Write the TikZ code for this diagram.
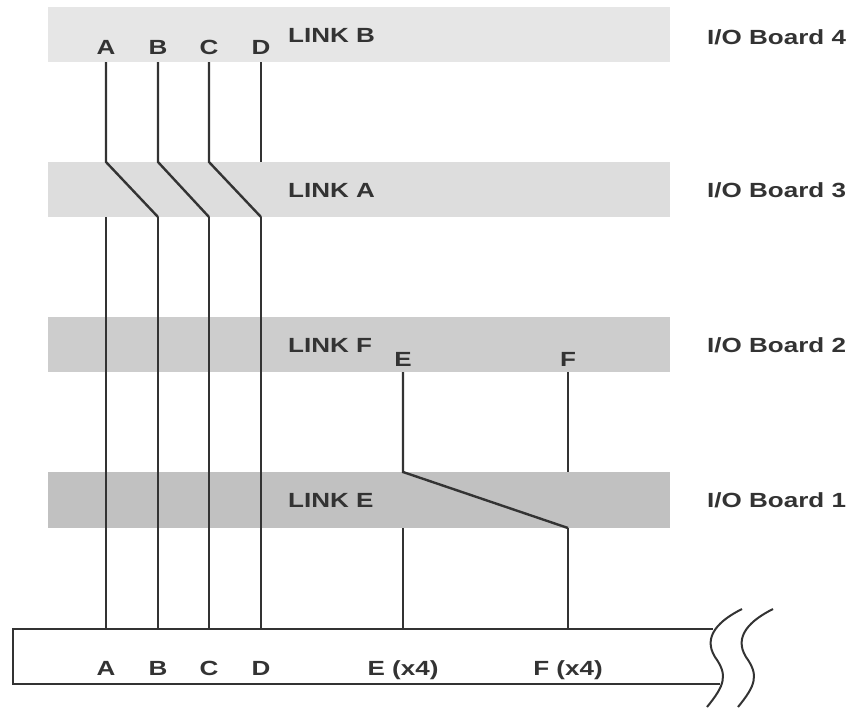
\documentclass[tikz,border=0pt]{standalone}
\usepackage{fontspec}
\setmainfont{Liberation Sans}[FakeStretch=1.27]
\begin{document}
\begin{tikzpicture}[x=1pt,y=-1pt,
    lbl/.style={inner sep=0pt,text height=14.7pt,text depth=0pt,
        font=\fontsize{20.5}{24}\selectfont\bfseries,text=ink},
    wire/.style={draw=ink,line width=2.4pt},
    boxline/.style={draw=ink,line width=2pt}]

    % 颜色
    \definecolor{ink}{RGB}{51, 51, 51}
    \definecolor{band4}{RGB}{230, 230, 230}
    \definecolor{band3}{RGB}{221, 221, 221}
    \definecolor{band2}{RGB}{205, 205, 205}
    \definecolor{band1}{RGB}{193, 193, 193}

    \useasboundingbox (0,0) rectangle (851,707);

    % 四块板的灰色条
    \fill[band4] (48,7) rectangle (670,62);
    \fill[band3] (48,162) rectangle (670,217);
    \fill[band2] (48,317) rectangle (670,372);
    \fill[band1] (48,472) rectangle (670,528);

    % 链路和板的标签
    \node[lbl,anchor=west] (linkB) at (288,35) {LINK B};
    \node[lbl,anchor=west] (linkA) at (288,190) {LINK A};
    \node[lbl,anchor=west] (linkF) at (288,345) {LINK F};
    \node[lbl,anchor=west] (linkE) at (288,500) {LINK E};
    \node[lbl,anchor=west] (board4) at (707,37) {I/O Board 4};
    \node[lbl,anchor=west] (board3) at (707,190) {I/O Board 3};
    \node[lbl,anchor=west] (board2) at (707,345) {I/O Board 2};
    \node[lbl,anchor=west] (board1) at (707,500) {I/O Board 1};

    % A 到 D 的信号
    \foreach \n/\x in {A/106,B/158,C/209,D/261} {
        \node[lbl] (t\n) at (\x,47) {\n};
        \node[lbl] (b\n) at (\x,668) {\n};
        \coordinate (u\n) at (\x,62);
        \coordinate (m\n) at (\x,162);
        \coordinate (l\n) at (\x,217);
        \coordinate (e\n) at (\x,629);
        \draw[wire] (l\n) -- (e\n);
    }
    \foreach \p/\q in {A/B,B/C,C/D} {
        \draw[wire] (u\p) -- (m\p) -- (l\q);
    }
    \draw[wire] (uD) -- (mD);

    % E 和 F 的信号
    \node[lbl] (tE) at (403,359) {E};
    \node[lbl] (tF) at (568,359) {F};
    \node[lbl] (bE) at (403,668) {E (x4)};
    \node[lbl] (bF) at (568,668) {F (x4)};
    \foreach \n/\x in {E/403,F/568} {
        \coordinate (u\n) at (\x,372);
        \coordinate (m\n) at (\x,472);
        \coordinate (l\n) at (\x,528);
        \coordinate (e\n) at (\x,629);
        \draw[wire] (l\n) -- (e\n);
    }
    \draw[wire] (uE) -- (mE) -- (lF);
    \draw[wire] (uF) -- (mF);

    % 底板和断开符号
    \draw[boxline] (713,629) -| (13,684) -- (720,684);
    \foreach \s in {0,31} {
        \draw[boxline,xshift=\s] (742,609) .. controls (720,620) and (702,636) .. (715,657)
            .. controls (728,675) and (725,685) .. (707,707);
    }

\end{tikzpicture}
\end{document}
